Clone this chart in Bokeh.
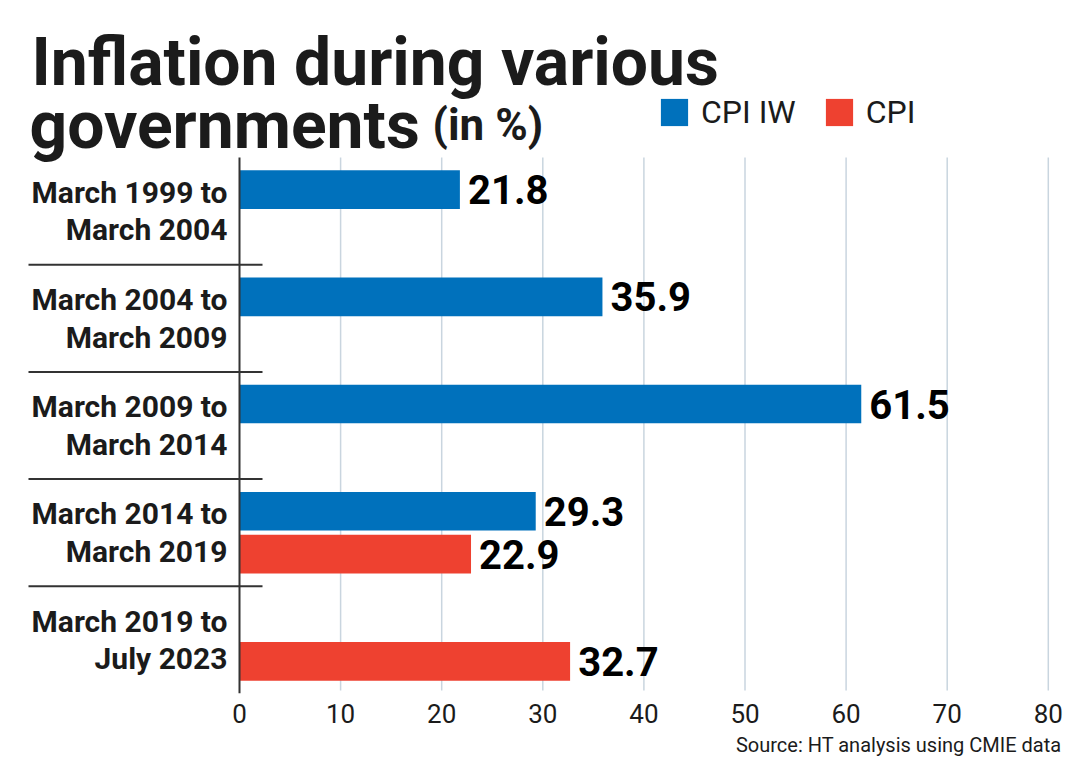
from bokeh.plotting import figure
from bokeh.models import Range1d, FixedTicker, Legend, LegendItem, Label, Title, ColumnDataSource
from bokeh.core.properties import value
from bokeh.embed import file_html
from bokeh.resources import INLINE

# ---------------- data ----------------
period_start = ["March 1999 to", "March 2004 to", "March 2009 to", "March 2014 to", "March 2019 to"]
period_end = ["March 2004", "March 2009", "March 2014", "March 2019", "July 2023"]
cpi_iw = [21.8, 35.9, 61.5, 29.3, None]
cpi = [None, None, None, 22.9, 32.7]
x_ticks = [0, 10, 20, 30, 40, 50, 60, 70, 80]
series_names = ["CPI IW", "CPI"]
title_main = "Inflation during various"
title_second = "governments"
title_unit = "(in %)"
source_text = "Source: HT analysis using CMIE data"

# ---------------- layout helpers (pixel -> data) ----------------
W, H = 1077, 773
FB = 693            # frame bottom in pixels
BAND_PX = 107.2     # height of one period band
X0_PX = 239         # pixel of value 0
UNIT_PX = 10.11     # pixels per 1 %


def py(px):
    return -0.5 + (FB - px) / BAND_PX


def px2x(px):
    return (px - X0_PX) / UNIT_PX


FONT = "Roboto"
INK = "#1b1b1b"
BLUE = "#0071bc"
RED = "#ee4130"
GRID = "#c9d5df"

n = len(period_start)
centers = [n - 1 - i for i in range(n)]
OFF = 0.2
BAR_H = 0.36

p = figure(width=W, height=H, x_range=Range1d(px2x(0), px2x(W)), y_range=Range1d(py(FB), py(0)),
           output_backend="svg", toolbar_location=None, y_axis_location=None,
           min_border_left=0, min_border_right=0, min_border_top=0, min_border_bottom=H - FB)
p.xgrid.visible = False
p.ygrid.visible = False
p.outline_line_color = None
p.background_fill_color = "white"
p.border_fill_color = "white"

ax = p.xaxis[0]
ax.ticker = FixedTicker(ticks=x_ticks)
ax.axis_line_color = None
ax.major_tick_line_color = None
ax.minor_tick_line_color = None
ax.major_label_text_font = FONT
ax.major_label_text_font_size = "26px"
ax.major_label_text_color = INK
ax.major_label_standoff = 4

# grid lines (only over the bar area)
p.segment(x0=x_ticks[1:], x1=x_ticks[1:], y0=[py(690)] * (len(x_ticks) - 1), y1=[py(157)] * (len(x_ticks) - 1),
          line_color=GRID, line_width=1.5)

# bars
iw_src = ColumnDataSource(dict(
    y=[centers[i] + OFF for i in range(n) if cpi_iw[i] is not None],
    v=[cpi_iw[i] for i in range(n) if cpi_iw[i] is not None],
))
cpi_src = ColumnDataSource(dict(
    y=[centers[i] - OFF for i in range(n) if cpi[i] is not None],
    v=[cpi[i] for i in range(n) if cpi[i] is not None],
))
for src in (iw_src, cpi_src):
    src.data["lx"] = [v + 0.8 for v in src.data["v"]]
    src.data["t"] = [f"{v}" for v in src.data["v"]]

r_iw = p.hbar(y="y", right="v", left=0, height=BAR_H, source=iw_src, fill_color=BLUE, line_color=None)
r_cpi = p.hbar(y="y", right="v", left=0, height=BAR_H, source=cpi_src, fill_color=RED, line_color=None)

for src in (iw_src, cpi_src):
    p.text(x="lx", y="y", text="t", source=src, text_font=value(FONT), text_font_style="bold",
           text_font_size="40px", text_color="black", text_baseline="middle", text_align="left")

# vertical axis line at zero
p.segment(x0=[0], x1=[0], y0=[py(693)], y1=[py(157)], line_color="#333333", line_width=2)

# separators between periods
seps = [c - 0.5 for c in centers[:-1]]
p.segment(x0=[px2x(28)] * len(seps), x1=[px2x(262)] * len(seps), y0=seps, y1=seps,
          line_color="#333333", line_width=2)

# category labels
p.text(x=[px2x(227)] * n, y=[c + 0.175 for c in centers], text=period_start, text_font=value(FONT),
       text_font_style="bold", text_font_size="30px", text_color=INK, text_align="right", text_baseline="middle")
p.text(x=[px2x(227)] * n, y=[c - 0.175 for c in centers], text=period_end, text_font=value(FONT),
       text_font_style="bold", text_font_size="30px", text_color=INK, text_align="right", text_baseline="middle")

# titles
p.add_layout(Label(x=px2x(31), y=py(62), text=title_main, text_font=FONT, text_font_style="bold",
                   text_font_size="66px", text_color=INK, text_baseline="alphabetic"))
p.add_layout(Label(x=px2x(29), y=py(125), text=title_second, text_font=FONT, text_font_style="bold",
                   text_font_size="66px", text_color=INK, text_baseline="alphabetic"))
p.add_layout(Label(x=px2x(432), y=py(124), text=title_unit, text_font=FONT, text_font_style="bold",
                   text_font_size="44px", text_color=INK, text_baseline="alphabetic"))

# legend
legend = Legend(items=[LegendItem(label=series_names[0], renderers=[r_iw]),
                       LegendItem(label=series_names[1], renderers=[r_cpi])],
                orientation="horizontal", location=(657, FB - 131), glyph_width=34, glyph_height=34,
                label_text_font=FONT, label_text_font_size="32px", label_text_color=INK,
                label_standoff=10, spacing=26, padding=0, margin=0, border_line_color=None,
                background_fill_alpha=0)
p.add_layout(legend, "center")

# source
p.add_layout(Title(text=source_text, align="right", text_font=FONT, text_font_style="normal",
                   text_font_size="20px", text_color=INK, offset=16), "below")

open("out.html", "w").write(file_html(p, INLINE))
